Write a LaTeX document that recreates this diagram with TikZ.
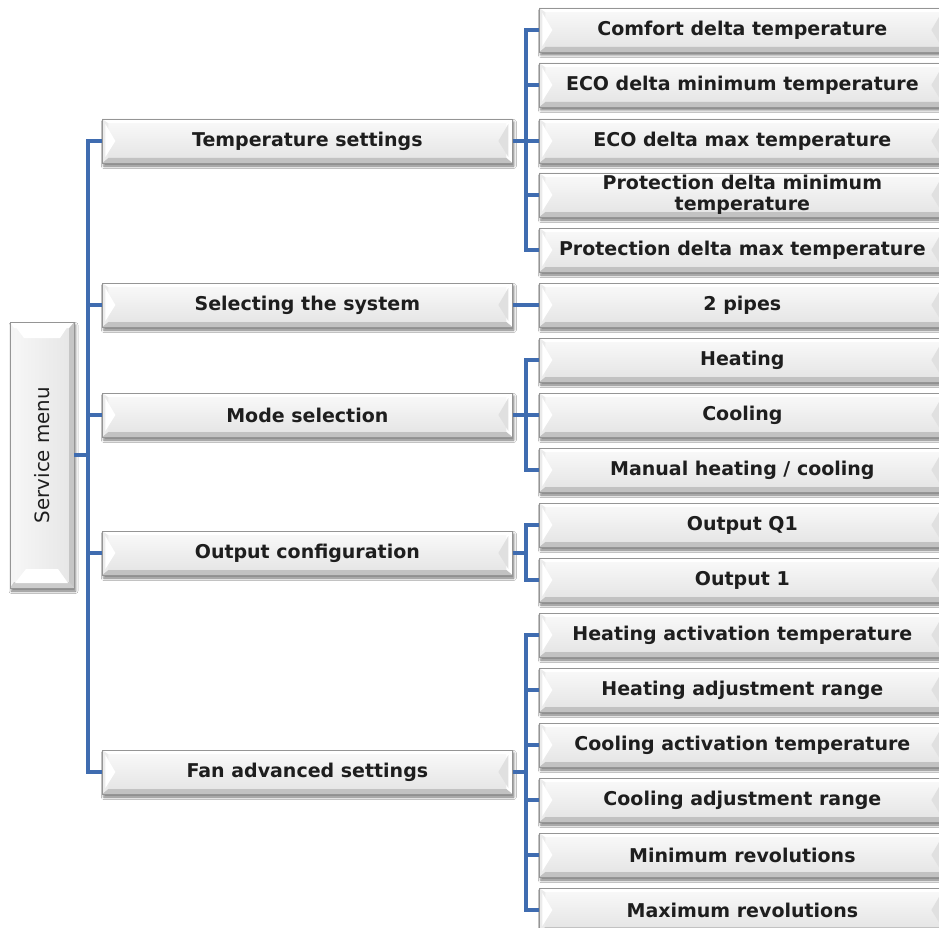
\documentclass[tikz,border=0pt]{standalone}
\usepackage{fontspec}
\usepackage{graphicx}
\setmainfont{DejaVu Sans}
\usetikzlibrary{calc,shadows.blur}
\definecolor{connc}{HTML}{3F6CB0}
\definecolor{bord}{HTML}{959595}
\definecolor{txt}{HTML}{1E1E1E}

\tikzset{
 connline/.style={draw=connc, line width=3.4pt, line join=miter},
 bevbase/.style={draw=bord, line width=0.7pt, inner sep=0pt, text=txt,
   blur shadow={shadow xshift=1.5pt, shadow yshift=-3pt, shadow blur radius=2.5pt, shadow opacity=55}},
 hbev/.style={bevbase, minimum width=406pt, minimum height=44pt,
   top color=gray!4, bottom color=gray!22, anchor=west, align=center,
   font=\bfseries\fontsize{19}{21}\selectfont,
   path picture={
     \coordinate (pA) at (path picture bounding box.north west);
     \coordinate (pB) at (path picture bounding box.north east);
     \coordinate (pC) at (path picture bounding box.south east);
     \coordinate (pD) at (path picture bounding box.south west);
     \coordinate (pW) at (path picture bounding box.west);
     \coordinate (pE) at (path picture bounding box.east);
     \fill[gray!16] (pA) -- ([shift={(6pt,-4pt)}]pA) -- ([shift={(6pt,5pt)}]pD) -- (pD) -- cycle;
     \fill[white] (pB) -- ([shift={(-6pt,-4pt)}]pB) -- ([shift={(-6pt,5pt)}]pC) -- (pC) -- cycle;
     \fill[white] (pA) -- (pB) -- ([shift={(-6pt,-4pt)}]pB) -- ([shift={(6pt,-4pt)}]pA) -- cycle;
     \fill[gray!48] (pD) -- (pC) -- ([shift={(-6pt,5pt)}]pC) -- ([shift={(6pt,5pt)}]pD) -- cycle;
     \fill[white] ([shift={(3pt,-5pt)}]pA) -- ([shift={(13pt,0pt)}]pW) -- ([shift={(3pt,6pt)}]pD) -- cycle;
     \fill[gray!24] ([shift={(-4pt,-5pt)}]pB) -- ([shift={(-14pt,0pt)}]pE) -- ([shift={(-4pt,6pt)}]pC) -- cycle;
   }},
 vbev/.style={bevbase, minimum width=64pt, minimum height=266pt,
   left color=gray!6, right color=gray!20,
   font=\fontsize{19.8}{22}\selectfont,
   path picture={
     \coordinate (pA) at (path picture bounding box.north west);
     \coordinate (pB) at (path picture bounding box.north east);
     \coordinate (pC) at (path picture bounding box.south east);
     \coordinate (pD) at (path picture bounding box.south west);
     \coordinate (pN) at (path picture bounding box.north);
     \coordinate (pS) at (path picture bounding box.south);
     \fill[gray!8] (pA) -- ([shift={(4pt,-6pt)}]pA) -- ([shift={(4pt,6pt)}]pD) -- (pD) -- cycle;
     \fill[gray!45] (pB) -- ([shift={(-5pt,-6pt)}]pB) -- ([shift={(-5pt,6pt)}]pC) -- (pC) -- cycle;
     \fill[white] (pA) -- (pB) -- ([shift={(-5pt,-6pt)}]pB) -- ([shift={(4pt,-6pt)}]pA) -- cycle;
     \fill[white] ([shift={(5pt,-4pt)}]pA) -- ([shift={(-6pt,-4pt)}]pB) -- ([shift={(-14pt,-16pt)}]pB) -- ([shift={(14pt,-16pt)}]pA) -- cycle;
     \fill[gray!40] (pD) -- (pC) -- ([shift={(-5pt,6pt)}]pC) -- ([shift={(4pt,6pt)}]pD) -- cycle;
     \fill[white] ([shift={(5pt,5pt)}]pD) -- ([shift={(-6pt,5pt)}]pC) -- ([shift={(-16pt,19pt)}]pC) -- ([shift={(16pt,19pt)}]pD) -- cycle;
   }},
}

\begin{document}
\begin{tikzpicture}[x=1pt,y=-1pt]
\useasboundingbox (0,0) rectangle (939,928);
\clip (0,0) rectangle (939,928);
\fill[white] (0,0) rectangle (939,928);

\coordinate (tr) at (88,0);
\coordinate (br) at (526,0);

% root
\node[vbev] (svc) at (42,455) {\rotatebox{90}{Service menu}};

% middle column
\node[hbev, minimum width=410pt] (m1) at (102,141) {Temperature settings};
\node[hbev, minimum width=410pt] (m2) at (102,305) {Selecting the system};
\node[hbev, minimum width=410pt] (m3) at (102,415) {Mode selection};
\node[hbev, minimum width=410pt] (m4) at (102,553) {Output configuration};
\node[hbev, minimum width=410pt] (m5) at (102,772) {Fan advanced settings};

% right column
\node[hbev] (c1) at (539,30) {Comfort delta temperature};
\node[hbev] (c2) at (539,85) {ECO delta minimum temperature};
\node[hbev] (c3) at (539,141) {ECO delta max temperature};
\node[hbev] (c4) at (539,195) {Protection delta minimum\\temperature};
\node[hbev] (c5) at (539,250) {Protection delta max temperature};
\node[hbev] (p1) at (539,305) {2 pipes};
\node[hbev] (h1) at (539,360) {Heating};
\node[hbev] (h2) at (539,415) {Cooling};
\node[hbev] (h3) at (539,470) {Manual heating / cooling};
\node[hbev] (o1) at (539,525) {Output Q1};
\node[hbev] (o2) at (539,580) {Output 1};
\node[hbev] (f1) at (539,635) {Heating activation temperature};
\node[hbev] (f2) at (539,690) {Heating adjustment range};
\node[hbev] (f3) at (539,745) {Cooling activation temperature};
\node[hbev] (f4) at (539,800) {Cooling adjustment range};
\node[hbev] (f5) at (539,855) {Minimum revolutions};
\node[hbev] (f6) at (539,910) {Maximum revolutions};

% trunk
\draw[connline] (m1.west) -- (m1.west -| tr) -- (m5.west -| tr) -- (m5.west);
\draw[connline] (svc.east) -- (svc.east -| tr);
\foreach \n in {m2,m3,m4} \draw[connline] (\n.west) -- (\n.west -| tr);

% group 1
\draw[connline] (c1.west) -- (c1.west -| br) -- (c5.west -| br) -- (c5.west);
\draw[connline] (m1.east) -- (m1.east -| br);
\foreach \n in {c2,c3,c4} \draw[connline] (\n.west) -- (\n.west -| br);

% group 2
\draw[connline] (m2.east) -- (p1.west);

% group 3
\draw[connline] (h1.west) -- (h1.west -| br) -- (h3.west -| br) -- (h3.west);
\draw[connline] (m3.east) -- (h2.west);

% group 4
\draw[connline] (o1.west) -- (o1.west -| br) -- (o2.west -| br) -- (o2.west);
\draw[connline] (m4.east) -- (m4.east -| br);

% group 5
\draw[connline] (f1.west) -- (f1.west -| br) -- (f6.west -| br) -- (f6.west);
\draw[connline] (m5.east) -- (m5.east -| br);
\foreach \n in {f2,f3,f4,f5} \draw[connline] (\n.west) -- (\n.west -| br);
\end{tikzpicture}
\end{document}
